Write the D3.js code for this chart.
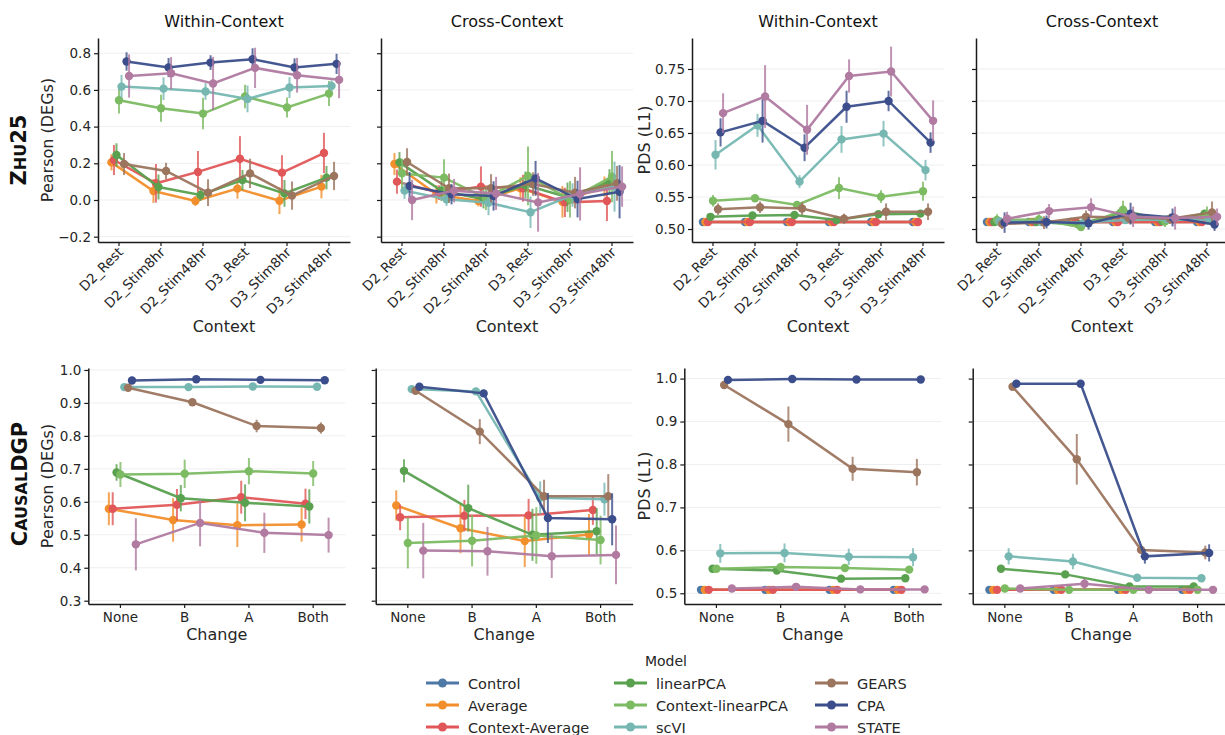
<!DOCTYPE html>
<html><head><meta charset="utf-8">
<script src="https://cdn.jsdelivr.net/npm/d3@7"></script>
<style>body{margin:0;background:#fff} svg{font-family:"DejaVu Sans",sans-serif}</style>
</head><body><svg id="c" width="1225" height="735"></svg>
<script>
// ---------- categories ----------
const models = ["Control","Average","Context-Average","linearPCA","Context-linearPCA","scVI","GEARS","CPA","STATE"];
const modelColors = ["#4e79a7","#f28e2b","#e15759","#59a14f","#7cbb62","#76b7b2","#9c755f","#3b4e8b","#b07aa1"];
const contexts = ["D2_Rest","D2_Stim8hr","D2_Stim48hr","D3_Rest","D3_Stim8hr","D3_Stim48hr"];
const changes = ["None","B","A","Both"];

// ---------- tick labels ----------
const topPearsonTicks = [-0.2,0.0,0.2,0.4,0.6,0.8];
const topPdsTicks = [0.50,0.55,0.60,0.65,0.70,0.75];
const bottomPearsonTicks = [0.3,0.4,0.5,0.6,0.7,0.8,0.9,1.0];
const bottomPdsTicks = [0.5,0.6,0.7,0.8,0.9,1.0];

const N6 = [null,null,null,null,null,null];
const N4 = [null,null,null,null];

// ---------- ZHU25 / Pearson (DEGs) / Within-Context (rows follow models) ----------
const zhuPearsonWithinMean = [
  N6,
  [0.205,0.049,-0.005,0.062,-0.004,0.073],
  [0.218,0.091,0.153,0.225,0.149,0.256],
  [0.245,0.071,0.027,0.109,0.036,0.122],
  [0.544,0.500,0.471,0.564,0.504,0.580],
  [0.618,0.607,0.591,0.551,0.613,0.622],
  [0.196,0.158,0.040,0.145,0.024,0.131],
  [0.755,0.722,0.749,0.767,0.722,0.742],
  [0.676,0.691,0.635,0.720,0.680,0.655]
];
const zhuPearsonWithinErr = [
  N6,
  [0.044,0.065,0.027,0.055,0.073,0.064],
  [0.082,0.105,0.114,0.123,0.095,0.110],
  [0.064,0.068,0.032,0.055,0.073,0.064],
  [0.073,0.073,0.086,0.064,0.055,0.068],
  [0.064,0.062,0.045,0.073,0.057,0.030],
  [0.060,0.045,0.073,0.080,0.077,0.077],
  [0.050,0.052,0.040,0.060,0.050,0.055],
  [0.118,0.088,0.145,0.110,0.095,0.100]
];
// ---------- ZHU25 / Pearson (DEGs) / Cross-Context ----------
const zhuPearsonCrossMean = [
  N6,
  [0.196,0.031,-0.005,0.064,-0.010,0.073],
  [0.100,0.040,0.073,0.064,-0.013,-0.005],
  [0.205,0.050,0.004,0.082,0.015,0.100],
  [0.145,0.122,0.010,0.131,0.004,0.127],
  [0.051,0.004,-0.015,-0.067,0.027,0.073],
  [0.207,0.064,0.064,0.087,0.040,0.091],
  [0.076,0.031,0.022,0.118,0.005,0.045],
  [0.000,0.051,0.036,-0.013,0.033,0.073]
];
const zhuPearsonCrossErr = [
  N6,
  [0.060,0.050,0.030,0.060,0.086,0.055],
  [0.066,0.040,0.110,0.073,0.080,0.110],
  [0.056,0.055,0.050,0.073,0.080,0.068],
  [0.080,0.100,0.064,0.160,0.100,0.140],
  [0.045,0.036,0.068,0.086,0.064,0.136],
  [0.075,0.080,0.077,0.064,0.086,0.095],
  [0.077,0.055,0.080,0.095,0.100,0.145],
  [0.110,0.064,0.090,0.160,0.145,0.110]
];
// ---------- ZHU25 / PDS (L1) / Within-Context ----------
const zhuPdsWithinMean = [
  [0.511,0.511,0.511,0.511,0.511,0.511],
  [0.511,0.511,0.511,0.511,0.511,0.511],
  [0.511,0.511,0.511,0.511,0.511,0.511],
  [0.519,0.521,0.522,0.514,0.523,0.524],
  [0.544,0.548,0.5375,0.564,0.5505,0.559],
  [0.616,0.662,0.574,0.640,0.649,0.592],
  [0.531,0.534,0.532,0.516,0.527,0.527],
  [0.651,0.669,0.627,0.691,0.700,0.635],
  [0.681,0.707,0.655,0.739,0.746,0.669]
];
const zhuPdsWithinErr = [
  [0,0,0,0,0,0],
  [0,0,0,0,0,0],
  [0,0,0,0,0,0],
  [0.003,0.003,0.003,0.003,0.003,0.003],
  [0.009,0.005,0.006,0.017,0.010,0.015],
  [0.023,0.018,0.010,0.021,0.020,0.016],
  [0.009,0.009,0.010,0.008,0.013,0.013],
  [0.022,0.034,0.021,0.025,0.016,0.016],
  [0.031,0.049,0.039,0.026,0.039,0.032]
];
// ---------- ZHU25 / PDS (L1) / Cross-Context ----------
const zhuPdsCrossMean = [
  [0.511,0.511,0.511,0.511,0.511,0.511],
  [0.511,0.511,0.511,0.511,0.511,0.511],
  [0.511,0.511,0.511,0.511,0.511,0.511],
  [0.511,0.511,0.507,0.525,0.512,0.524],
  [0.514,0.515,0.503,0.530,0.512,0.521],
  [0.512,0.511,0.510,0.514,0.515,0.514],
  [0.508,0.510,0.519,0.518,0.516,0.526],
  [0.510,0.511,0.509,0.524,0.518,0.507],
  [0.516,0.528,0.534,0.519,0.517,0.519]
];
const zhuPdsCrossErr = [
  [0,0,0,0,0,0],
  [0,0,0,0,0,0],
  [0,0,0,0,0,0],
  [0.005,0.005,0.005,0.005,0.005,0.005],
  [0.009,0.008,0.005,0.014,0.009,0.014],
  [0.005,0.005,0.005,0.005,0.005,0.005],
  [0.008,0.010,0.010,0.008,0.008,0.017],
  [0.016,0.010,0.010,0.017,0.014,0.010],
  [0.011,0.011,0.014,0.016,0.018,0.013]
];
// ---------- CausalDGP / Pearson (DEGs) / Within-Context ----------
const causalPearsonWithinMean = [
  N4,
  [0.579,0.545,0.529,0.531],
  [0.579,0.591,0.614,0.594],
  [0.689,0.611,0.597,0.586],
  [0.683,0.685,0.693,0.686],
  [0.948,0.948,0.950,0.949],
  [0.946,0.902,0.830,0.824],
  [0.968,0.972,0.970,0.969],
  [0.471,0.536,0.506,0.499]
];
const causalPearsonWithinErr = [
  N4,
  [0.050,0.066,0.066,0.052],
  [0.050,0.048,0.050,0.046],
  [0.025,0.040,0.056,0.052],
  [0.038,0.043,0.040,0.038],
  [0.003,0.003,0.003,0.003],
  [0.005,0.010,0.019,0.017],
  [0.003,0.003,0.003,0.003],
  [0.079,0.071,0.061,0.053]
];
// ---------- CausalDGP / Pearson (DEGs) / Cross-Context ----------
const causalPearsonCrossMean = [
  N4,
  [0.589,0.520,0.481,0.501],
  [0.553,0.558,0.559,0.575],
  [0.694,0.581,0.500,0.511],
  [0.475,0.482,0.498,0.484],
  [0.942,0.935,0.612,0.608],
  [0.937,0.813,0.617,0.617],
  [0.949,0.929,0.551,0.547],
  [0.452,0.450,0.435,0.439]
];
const causalPearsonCrossErr = [
  N4,
  [0.046,0.076,0.079,0.062],
  [0.039,0.048,0.050,0.045],
  [0.035,0.071,0.079,0.070],
  [0.077,0.078,0.086,0.074],
  [0.004,0.004,0.050,0.050],
  [0.005,0.038,0.050,0.067],
  [0.004,0.005,0.076,0.079],
  [0.084,0.074,0.066,0.089]
];
// ---------- CausalDGP / PDS (L1) / Within-Context ----------
const causalPdsWithinMean = [
  [0.508,0.508,0.508,0.508],
  [0.508,0.508,0.508,0.508],
  [0.508,0.508,0.508,0.508],
  [0.557,0.553,0.534,0.535],
  [0.557,0.561,0.559,0.555],
  [0.593,0.594,0.585,0.584],
  [0.985,0.894,0.790,0.782],
  [0.997,0.999,0.998,0.998],
  [0.511,0.515,0.509,0.509]
];
const causalPdsWithinErr = [
  [0,0,0,0],[0,0,0,0],[0,0,0,0],
  [0.004,0.008,0.004,0.004],
  [0.004,0.010,0.007,0.007],
  [0.022,0.022,0.019,0.021],
  [0.004,0.041,0.028,0.031],
  [0.002,0.002,0.002,0.002],
  [0.004,0.004,0.004,0.004]
];
// ---------- CausalDGP / PDS (L1) / Cross-Context ----------
const causalPdsCrossMean = [
  [0.508,0.508,0.508,0.508],
  [0.508,0.508,0.508,0.508],
  [0.508,0.508,0.508,0.508],
  [0.557,0.544,0.516,0.516],
  [0.511,0.508,0.508,0.508],
  [0.586,0.574,0.536,0.535],
  [0.981,0.812,0.601,0.595],
  [0.988,0.988,0.586,0.594],
  [0.511,0.522,0.508,0.508]
];
const causalPdsCrossErr = [
  [0,0,0,0],[0,0,0,0],[0,0,0,0],
  [0.007,0.008,0.003,0.003],
  [0.003,0.003,0.003,0.003],
  [0.019,0.018,0.004,0.004],
  [0.004,0.059,0.008,0.016],
  [0.003,0.003,0.017,0.020],
  [0.003,0.012,0.003,0.003]
];

// ---------- drawing ----------
const svg = d3.select("#c");
const ink = "#262626";
const fmt1 = d3.format(".1f"), fmt2 = d3.format(".2f");

function panel(o) {
  const g = svg.append("g");
  const x = d3.scaleBand().domain(o.cats).range([o.left, o.left + o.width]);
  const y = d3.scaleLinear().domain(o.yDomain).range([o.bottom, o.top]);
  const bw = x.bandwidth();
  const cx = (c, i) => x(c) + bw / 2 + (i - 4) * 0.06 * bw;

  // grid
  g.append("g").selectAll("line").data(o.ticks).join("line")
    .attr("x1", o.left).attr("x2", o.left + o.width)
    .attr("y1", d => y(d)).attr("y2", d => y(d))
    .attr("stroke", "#efefef").attr("stroke-width", 1);

  // series
  models.forEach((m, i) => {
    const pts = o.cats.map((c, j) => ({c, v: o.mean[i][j], e: o.err[i][j]})).filter(p => p.v !== null);
    if (!pts.length) return;
    const col = modelColors[i];
    const sg = g.append("g");
    sg.selectAll("line.eb").data(pts).join("line").attr("class", "eb")
      .attr("x1", p => cx(p.c, i)).attr("x2", p => cx(p.c, i))
      .attr("y1", p => y(p.v - p.e)).attr("y2", p => y(p.v + p.e))
      .attr("stroke", col).attr("stroke-width", 2).attr("opacity", 0.8);
    sg.append("path").datum(pts)
      .attr("d", d3.line().x(p => cx(p.c, i)).y(p => y(p.v)))
      .attr("fill", "none").attr("stroke", col).attr("stroke-width", 2.5).attr("opacity", 0.95);
    sg.selectAll("circle").data(pts).join("circle")
      .attr("cx", p => cx(p.c, i)).attr("cy", p => y(p.v)).attr("r", 4.2)
      .attr("fill", col);
  });

  // axes
  const ya = g.append("g").attr("transform", `translate(${o.left},0)`)
    .call(d3.axisLeft(y).tickValues(o.ticks).tickSize(4).tickSizeOuter(0).tickPadding(3)
      .tickFormat(o.showY ? o.fmt : () => ""));
  const xa = g.append("g").attr("transform", `translate(0,${o.bottom})`)
    .call(d3.axisBottom(x).tickSize(4).tickSizeOuter(0).tickPadding(4));
  [ya, xa].forEach(a => {
    a.select(".domain").attr("stroke", "#1a1a1a").attr("stroke-width", 1.5);
    a.selectAll(".tick line").attr("stroke", "#1a1a1a").attr("stroke-width", 1.2);
    a.selectAll("text").attr("fill", ink).style("font-size", "13.5px").style("font-family", "DejaVu Sans");
  });
  if (o.rotate) {
    xa.selectAll("text").attr("x", 0).attr("y", 0).attr("dy", null)
      .attr("transform", "translate(5,11) rotate(-45)").style("text-anchor", "end");
  }
  if (o.title) {
    svg.append("text").attr("x", o.left + o.width / 2).attr("y", 27)
      .attr("text-anchor", "middle").attr("fill", "#111").style("font-size", "16px").text(o.title);
  }
  svg.append("text").attr("x", o.left + o.width / 2).attr("y", o.xLabelY)
    .attr("text-anchor", "middle").attr("fill", ink).style("font-size", "16px").text(o.xLabel);
  if (o.yLabel) {
    svg.append("text").attr("transform", `translate(${o.yLabelX},${(o.top + o.bottom) / 2}) rotate(-90)`)
      .attr("text-anchor", "middle").attr("fill", ink).style("font-size", "16px").text(o.yLabel);
  }
}

const topLefts = [98, 381, 692, 976];
const botLefts = [88.3, 375.7, 684.3, 972.7];
const topCfg = {top: 38, bottom: 242, width: 252, cats: contexts, rotate: true, xLabel: "Context", xLabelY: 332};
const botCfg = {top: 368, bottom: 604, width: 257, cats: changes, rotate: false, xLabel: "Change", xLabelY: 640};

panel({...topCfg, left: topLefts[0], yDomain: [-0.229, 0.883], ticks: topPearsonTicks, fmt: fmt1, showY: true,
  mean: zhuPearsonWithinMean, err: zhuPearsonWithinErr, title: "Within-Context", yLabel: "Pearson (DEGs)", yLabelX: 53});
panel({...topCfg, left: topLefts[1], yDomain: [-0.229, 0.883], ticks: topPearsonTicks, fmt: fmt1, showY: false,
  mean: zhuPearsonCrossMean, err: zhuPearsonCrossErr, title: "Cross-Context"});
panel({...topCfg, left: topLefts[2], yDomain: [0.4797, 0.7984], ticks: topPdsTicks, fmt: fmt2, showY: true,
  mean: zhuPdsWithinMean, err: zhuPdsWithinErr, title: "Within-Context", yLabel: "PDS (L1)", yLabelX: 650});
panel({...topCfg, left: topLefts[3], yDomain: [0.4797, 0.7984], ticks: topPdsTicks, fmt: fmt2, showY: false,
  mean: zhuPdsCrossMean, err: zhuPdsCrossErr, title: "Cross-Context"});

panel({...botCfg, left: botLefts[0], yDomain: [0.29, 1.006], ticks: bottomPearsonTicks, fmt: fmt1, showY: true,
  mean: causalPearsonWithinMean, err: causalPearsonWithinErr, yLabel: "Pearson (DEGs)", yLabelX: 53});
panel({...botCfg, left: botLefts[1], yDomain: [0.29, 1.006], ticks: bottomPearsonTicks, fmt: fmt1, showY: false,
  mean: causalPearsonCrossMean, err: causalPearsonCrossErr});
panel({...botCfg, left: botLefts[2], yDomain: [0.475, 1.0247], ticks: bottomPdsTicks, fmt: fmt1, showY: true,
  mean: causalPdsWithinMean, err: causalPdsWithinErr, yLabel: "PDS (L1)", yLabelX: 650});
panel({...botCfg, left: botLefts[3], yDomain: [0.475, 1.0247], ticks: bottomPdsTicks, fmt: fmt1, showY: false,
  mean: causalPdsCrossMean, err: causalPdsCrossErr});

// row labels (small caps)
function rowLabel(parts, cxp, cyp) {
  const t = svg.append("text").attr("transform", `translate(${cxp},${cyp}) rotate(-90)`)
    .attr("text-anchor", "middle").attr("fill", "#111").style("font-weight", "bold");
  parts.forEach(([s, big]) => t.append("tspan").style("font-size", big ? "21px" : "16px").text(s));
}
rowLabel([["Z", true], ["HU", false], ["25", true]], 26, 150);
rowLabel([["C", true], ["AUSAL", false], ["DGP", true]], 27, 484);

// legend
svg.append("text").attr("x", 666).attr("y", 666).attr("text-anchor", "middle")
  .attr("fill", ink).style("font-size", "14px").text("Model");
const legX = [426, 614, 815], legY = [683, 705, 727];
models.forEach((m, i) => {
  const col = Math.floor(i / 3), row = i % 3;
  const lx = legX[col], ly = legY[row];
  const lg = svg.append("g");
  lg.append("line").attr("x1", lx).attr("x2", lx + 33).attr("y1", ly).attr("y2", ly)
    .attr("stroke", modelColors[i]).attr("stroke-width", 3);
  lg.append("circle").attr("cx", lx + 16.5).attr("cy", ly).attr("r", 4.5).attr("fill", modelColors[i]);
  lg.append("text").attr("x", lx + 42).attr("y", ly + 5.5).attr("fill", ink)
    .style("font-size", "14.5px").text(m);
});
</script></body></html>
